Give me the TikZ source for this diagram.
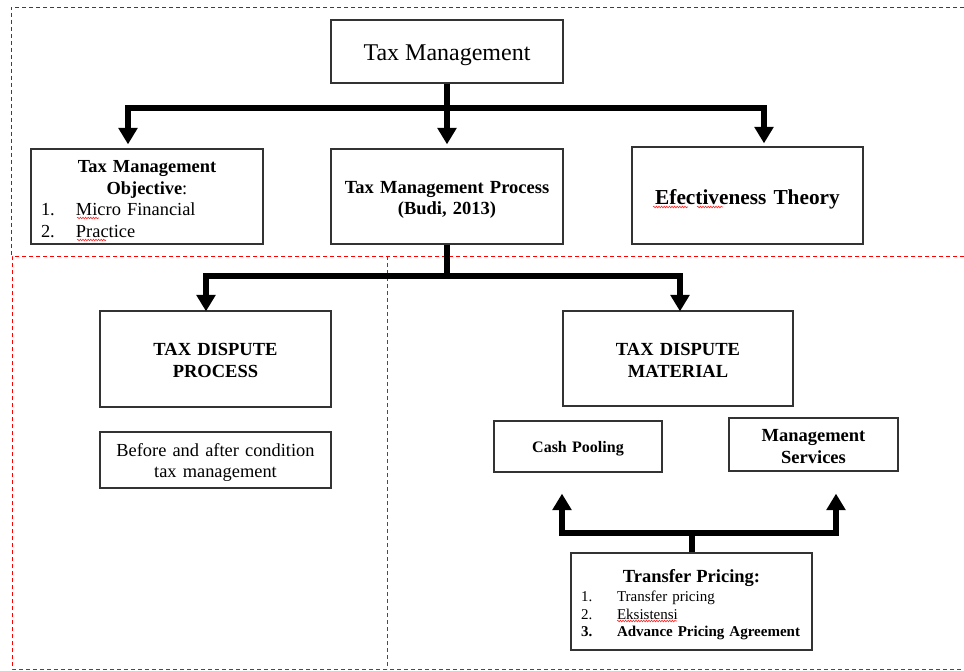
\documentclass[tikz,border=0pt]{standalone}
\usepackage{fontspec}
\setmainfont{Liberation Serif}
\usetikzlibrary{arrows.meta,calc,decorations.pathmorphing}
% invisible strut that lowers a node's text by half its argument
\newcommand{\dn}[1]{\raisebox{#1}{\vphantom{(}}}
\begin{document}
\begin{tikzpicture}[x=1pt,y=-1pt,
  box/.style={draw=black!80,line width=1.3pt,align=center,inner sep=0pt,fill=white},
  arr/.style={line width=6pt,-{Triangle[width=18.5pt,length=16.5pt]}},
  blackdash/.style={draw=black!75,line width=0.9pt,dash pattern=on 4pt off 3pt},
  reddash/.style={draw=red,line width=0.9pt,dash pattern=on 4pt off 3pt},
  squig/.style={draw=red!85,line width=0.6pt,decorate,decoration={snake,amplitude=0.8pt,segment length=2.6pt}},
  reg/.style={font=\fontsize{18.4}{21.7}\selectfont},
  bld/.style={font=\fontsize{18.5}{21.7}\selectfont\bfseries}
]
\useasboundingbox (0,0) rectangle (964,671);
\fill[white] (0,0) rectangle (964,671);

% frames
\draw[blackdash] (964,7) -- (11,7) -- (11,256);
\draw[reddash] (964,256) -- (12,256) -- (12,669) -- (964,669);
\draw[reddash] (387,256) -- (387,669);

% nodes
\node[box,minimum width=232pt,minimum height=63pt,font=\fontsize{24}{28}\selectfont] (tm) at (447,51.5) {\dn{6pt}Tax Management};

\node[box,minimum width=232pt,minimum height=95pt,text width=212pt,reg] (tmo) at (147,196.5)
 {\dn{4.5pt}\textbf{Tax Management}\\\textbf{Objective}:\\
  \makebox[212pt][l]{\makebox[35pt][l]{1.}Micro Financial}\\
  \makebox[212pt][l]{\makebox[35pt][l]{2.}Practice}};

\node[box,minimum width=232pt,minimum height=95pt,text width=226pt,bld] (tmp) at (447,196.5)
 {\dn{6pt}Tax Management Process\\(Budi, 2013)};

\node[box,minimum width=231pt,minimum height=97pt,text width=225pt,font=\fontsize{21.3}{25}\selectfont\bfseries] (et) at (747.5,195.5)
 {\dn{8pt}Efectiveness Theory};

\node[box,minimum width=231pt,minimum height=96pt,text width=225pt,bld] (tdp) at (215.5,359)
 {\dn{2.5pt}TAX DISPUTE\\PROCESS};

\node[box,minimum width=231pt,minimum height=56pt,text width=225pt,reg] (baf) at (215.5,460)
 {\dn{5pt}Before and after condition\\tax management};

\node[box,minimum width=230pt,minimum height=95pt,text width=224pt,bld] (tdm) at (678,358.5)
 {\dn{2.5pt}TAX DISPUTE\\MATERIAL};

\node[box,minimum width=168pt,minimum height=51pt,text width=162pt,font=\fontsize{16}{19}\selectfont\bfseries] (cp) at (578,446.5)
 {\dn{4pt}Cash Pooling};

\node[box,minimum width=169pt,minimum height=53pt,text width=163pt,bld] (ms) at (813.5,444.5)
 {\dn{4pt}Management\\Services};

\node[box,minimum width=241pt,minimum height=97pt,text width=221pt,font=\fontsize{15}{17.5}\selectfont] (tp) at (691.5,601.5)
 {{\fontsize{18.5}{20}\selectfont\bfseries\dn{6.5pt}Transfer Pricing:}\\[1.5pt]
  \makebox[221pt][l]{\makebox[36pt][l]{1.}Transfer pricing}\\
  \makebox[221pt][l]{\makebox[36pt][l]{2.}Eksistensi}\\
  \makebox[221pt][l]{\makebox[36pt][l]{\textbf{3.}}\textbf{Advance Pricing Agreement}}};

% connectors
\draw[arr] (tm.south) -- ++(0,24) -| ($(tmo.north)+(-19,-4)$);
\draw[arr] (tm.south) -- ($(tmp.north)+(0,-4)$);
\draw[arr] (tm.south) -- ++(0,24) -| ($(et.north)+(16.5,-3)$);

\draw[arr] (tmp.south) -- ++(0,31) -| ($(tdp.north)+(-9.5,1)$);
\draw[arr] (tmp.south) -- ++(0,31) -| ($(tdm.north)+(2,1)$);

\draw[arr] (tp.north) -- ++(0,-19) -| ($(cp.south)+(-16,21)$);
\draw[arr] (tp.north) -- ++(0,-19) -| ($(ms.south)+(22.5,22)$);

% spell-check squiggles
\draw[squig] (77,218) -- (99,218);
\draw[squig] (77,240) -- (106,240);
\draw[squig] (653,207) -- (688,207);
\draw[squig] (697,207) -- (723,207);
\draw[squig] (617,621) -- (677,621);
\end{tikzpicture}
\end{document}
